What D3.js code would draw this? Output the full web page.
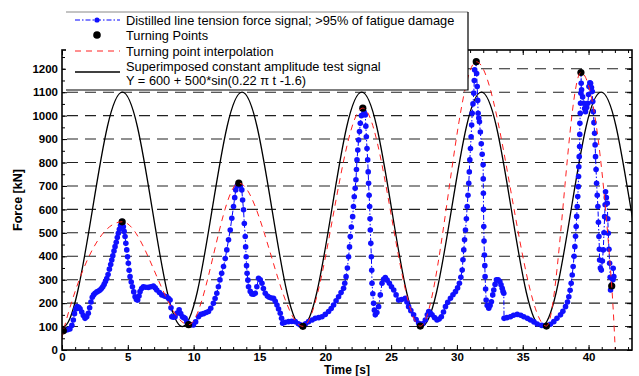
<!DOCTYPE html>
<html>
<head>
<meta charset="utf-8">
<script src="https://cdn.jsdelivr.net/npm/d3@7/dist/d3.min.js"></script>
<style>
  body { margin: 0; background: #fff; }
  svg { display: block; font-family: "Liberation Sans", Arial, sans-serif; }
</style>
</head>
<body>
<div id="chart"></div>
<script>
// distilled line tension force signal (time [s], force [kN])
const sigTime = [
  0.0, 0.15, 0.3, 0.45, 0.6, 0.75, 0.86, 0.95, 1.05, 1.15,
  1.27, 1.37, 1.5, 1.62, 1.75, 1.88, 2.0, 2.1, 2.2, 2.3,
  2.4, 2.51, 2.65, 2.78, 2.89, 3.0, 3.1, 3.2, 3.3, 3.4,
  3.5, 3.6, 3.7, 3.78, 3.86, 3.95, 4.03, 4.12, 4.2, 4.28,
  4.36, 4.45, 4.54, 4.6, 4.66, 4.72, 4.79, 4.85, 4.92, 4.98,
  5.04, 5.1, 5.17, 5.26, 5.35, 5.45, 5.55, 5.65, 5.75, 5.85,
  5.93, 6.05, 6.18, 6.35, 6.56, 6.75, 6.94, 7.08, 7.2, 7.4,
  7.58, 7.78, 7.96, 8.1, 8.21, 8.28, 8.34, 8.47, 8.59, 8.75,
  8.9, 9.02, 9.15, 9.25, 9.35, 9.48, 9.6, 9.8, 9.98, 10.15,
  10.37, 10.55, 10.75, 10.95, 11.13, 11.3, 11.5, 11.63, 11.76, 11.88,
  12.0, 12.13, 12.27, 12.4, 12.52, 12.65, 12.78, 12.9, 13.03, 13.12,
  13.2, 13.3, 13.41, 13.55, 13.66, 13.72, 13.79, 13.85, 13.92, 13.95,
  13.99, 14.02, 14.06, 14.12, 14.17, 14.3, 14.42, 14.55, 14.68, 14.8,
  14.93, 15.06, 15.19, 15.3, 15.44, 15.6, 15.74, 15.9, 16.07, 16.2,
  16.33, 16.45, 16.58, 16.68, 16.76, 16.95, 17.21, 17.45, 17.72, 17.95,
  18.1, 18.27, 18.5, 18.73, 19.0, 19.24, 19.5, 19.75, 20.0, 20.25,
  20.45, 20.63, 20.82, 21.01, 21.2, 21.39, 21.48, 21.58, 21.68, 21.77,
  21.84, 21.9, 21.98, 22.08, 22.14, 22.2, 22.27, 22.33, 22.37, 22.41,
  22.47, 22.53, 22.6, 22.66, 22.75, 22.84, 22.95, 23.04, 23.08, 23.12,
  23.17, 23.22, 23.26, 23.29, 23.33, 23.37, 23.4, 23.42, 23.46, 23.5,
  23.53, 23.55, 23.61, 23.67, 23.73, 23.8, 23.92, 24.05, 24.18, 24.31,
  24.43, 24.56, 24.7, 24.87, 25.03, 25.2, 25.38, 25.57, 25.8, 26.08,
  26.2, 26.33, 26.5, 26.71, 26.9, 27.1, 27.22, 27.4, 27.6, 27.75,
  27.86, 27.98, 28.11, 28.3, 28.49, 28.65, 28.82, 28.98, 29.13, 29.3,
  29.51, 29.7, 29.89, 30.05, 30.19, 30.3, 30.4, 30.46, 30.52, 30.58,
  30.65, 30.72, 30.78, 30.84, 30.9, 30.94, 30.98, 31.03, 31.08, 31.12,
  31.16, 31.22, 31.28, 31.32, 31.35, 31.46, 31.5, 31.54, 31.58, 31.61,
  31.66, 31.71, 31.78, 31.85, 31.92, 31.99, 32.0, 32.01, 32.02, 32.04,
  32.06, 32.09, 32.12, 32.14, 32.18, 32.22, 32.3, 32.42, 32.52, 32.62,
  32.72, 32.8, 32.9, 33.0, 33.13, 33.26, 33.35, 33.44, 33.5, 33.56,
  33.58, 33.8, 34.07, 34.3, 34.58, 34.85, 35.08, 35.35, 35.59, 35.85,
  36.1, 36.45, 36.8, 37.1, 37.36, 37.6, 37.87, 38.05, 38.25, 38.4,
  38.5, 38.6, 38.68, 38.76, 38.83, 38.9, 38.96, 39.01, 39.06, 39.1,
  39.14, 39.18, 39.22, 39.24, 39.26, 39.29, 39.32, 39.33, 39.34, 39.37,
  39.39, 39.42, 39.44, 39.42, 39.47, 39.55, 39.64, 39.7, 39.77, 39.86,
  39.95, 40.0, 40.03, 40.1, 40.15, 40.22, 40.28, 40.32, 40.36, 40.41,
  40.46, 40.5, 40.53, 40.57, 40.61, 40.66, 40.71, 40.75, 40.79, 40.82,
  40.84, 40.9, 40.97, 41.05, 41.12, 41.17, 41.22, 41.26, 41.29, 41.35,
  41.42, 41.46, 41.5, 41.55, 41.6, 41.64, 41.67, 41.75, 41.85, 41.92,
  41.87
];
const sigForce = [
  82, 83, 85, 87, 90, 105, 128, 155, 175, 185,
  182, 176, 162, 147, 135, 142, 157, 180, 205, 225,
  235, 242, 248, 252, 256, 262, 270, 280, 292, 305,
  322, 345, 365, 384, 402, 422, 441, 460, 480, 498,
  515, 532, 548, 540, 526, 506, 484, 455, 427, 398,
  370, 340, 313, 290, 270, 248, 227, 215, 213, 230,
  249, 262, 270, 268, 267, 270, 273, 265, 256, 245,
  235, 230, 227, 220, 213, 180, 142, 140, 142, 158,
  171, 155, 142, 138, 135, 120, 111, 108, 107, 120,
  142, 152, 155, 160, 164, 178, 199, 220, 242, 270,
  299, 327, 356, 390, 427, 470, 512, 562, 612, 650,
  683, 700, 711, 700, 683, 640, 598, 540, 484, 440,
  398, 360, 327, 298, 270, 250, 239, 238, 242, 270,
  306, 300, 285, 262, 242, 230, 225, 222, 221, 208,
  192, 175, 157, 135, 114, 118, 121, 122, 121, 112,
  107, 102, 112, 121, 128, 135, 138, 142, 152, 164,
  177, 192, 210, 227, 245, 263, 285, 313, 350, 398,
  440, 484, 525, 569, 612, 654, 690, 726, 770, 811,
  853, 896, 932, 967, 1000, 1031, 1015, 1003, 955, 910,
  860, 811, 760, 711, 660, 612, 560, 512, 455, 398,
  340, 285, 240, 199, 170, 150, 160, 185, 235, 285,
  302, 309, 298, 285, 270, 256, 235, 213, 215, 221,
  205, 185, 168, 150, 130, 114, 102, 112, 128, 150,
  164, 158, 150, 138, 128, 132, 142, 162, 185, 203,
  221, 236, 249, 265, 285, 310, 341, 385, 427, 470,
  512, 560, 612, 660, 711, 760, 811, 860, 910, 960,
  1010, 1050, 1096, 1150, 1195, 1230, 1180, 1124, 1065, 1010,
  990, 974, 930, 880, 835, 790, 730, 669, 600, 527,
  465, 405, 360, 313, 260, 213, 190, 178, 190, 206,
  235, 256, 280, 299, 300, 292, 278, 263, 250, 242,
  135, 138, 142, 148, 152, 148, 142, 135, 128, 120,
  111, 105, 102, 110, 121, 135, 150, 165, 185, 205,
  227, 255, 285, 320, 356, 400, 441, 485, 527, 570,
  612, 655, 697, 740, 782, 825, 868, 920, 967, 1010,
  1053, 1095, 1138, 1184, 1110, 1080, 1053, 1030, 1017, 1035,
  1053, 1090, 1124, 1140, 1138, 1120, 1103, 1060, 1017, 970,
  925, 875, 825, 770, 711, 660, 612, 545, 484, 430,
  384, 350, 341, 380, 427, 500, 569, 620, 675, 650,
  626, 560, 498, 430, 370, 310, 256, 273, 300, 313,
  349
];

// turning points
const tpTime = [0.1, 4.57, 9.62, 13.43, 18.3, 22.85, 27.22, 31.47, 36.8, 39.42, 41.76];
const tpForce = [82, 547, 108, 712, 101, 1032, 102, 1230, 102, 1184, 273];

// where the interpolation curve starts and runs out of the plot
const interpEdgeTime = [0, 42.15];
const interpEdgeForce = [45, -150];

// superimposed constant amplitude test signal, Y = 600 + 500*sin(0.22 pi t - 1.6)
const testTime = [
  -1.094, 0.042, 1.178, 2.315, 3.451, 4.588, 5.724, 6.86, 7.997, 9.133,
  10.27, 11.406, 12.542, 13.679, 14.815, 15.952, 17.088, 18.224, 19.361, 20.497,
  21.634, 22.77, 23.906, 25.043, 26.179, 27.316, 28.452, 29.588, 30.725, 31.861,
  32.998, 34.134, 35.27, 36.407, 37.543, 38.68, 39.816, 40.952, 42.089, 43.225,
  44.361
];
const testForce = [
  246.4, 100, 246.4, 600, 953.6, 1100, 953.6, 600, 246.4, 100,
  246.4, 600, 953.6, 1100, 953.6, 600, 246.4, 100, 246.4, 600,
  953.6, 1100, 953.6, 600, 246.4, 100, 246.4, 600, 953.6, 1100,
  953.6, 600, 246.4, 100, 246.4, 600, 953.6, 1100, 953.6, 600,
  246.4
];

const xTicks = [0, 5, 10, 15, 20, 25, 30, 35, 40];
const yTicks = [0, 100, 200, 300, 400, 500, 600, 700, 800, 900, 1000, 1100, 1200];
const legendLabels = [
  "Distilled line tension force signal; >95% of fatigue damage",
  "Turning Points",
  "Turning point interpolation",
  "Superimposed constant amplitude test signal",
  "Y = 600 + 500*sin(0.22 \u03c0 t -1.6)"
];

const W = 639, H = 376;
const margin = { top: 50, right: 7, bottom: 26, left: 62 },
    width = W - margin.left - margin.right,
    height = H - margin.top - margin.bottom;

const svg = d3.select("#chart").append("svg")
    .attr("width", W)
    .attr("height", H);

const g = svg.append("g").attr("transform", `translate(${margin.left},${margin.top})`);

const x = d3.scaleLinear().domain([0, 43.3]).range([0, width]);
const y = d3.scaleLinear().domain([0, 1280]).range([height, 0]);

g.append("clipPath").attr("id", "plot-clip")
  .append("rect").attr("width", width).attr("height", height);

// dashed horizontal grid
g.append("g").selectAll("line")
  .data(yTicks.filter(d => d > 0))
  .enter().append("line")
  .attr("x1", 0).attr("x2", width)
  .attr("y1", d => y(d)).attr("y2", d => y(d))
  .attr("stroke", "#222").attr("stroke-width", 1.1)
  .attr("stroke-dasharray", "11,7").attr("stroke-dashoffset", 13);

const plot = g.append("g").attr("clip-path", "url(#plot-clip)");

// constant amplitude test signal
const testData = testTime.map((t, i) => [t, testForce[i]]);
plot.append("path")
  .datum(testData)
  .attr("fill", "none").attr("stroke", "#000").attr("stroke-width", 1.3)
  .attr("d", d3.line().x(d => x(d[0])).y(d => y(d[1])).curve(d3.curveNatural));

// distilled signal
const sigData = sigTime.map((t, i) => [t, sigForce[i]]);
plot.append("path")
  .datum(sigData)
  .attr("fill", "none").attr("stroke", "#0000ff").attr("stroke-width", 1)
  .attr("stroke-dasharray", "5,2,1.5,2")
  .attr("d", d3.line().x(d => x(d[0])).y(d => y(d[1])));

plot.append("g").selectAll("circle")
  .data(sigData)
  .enter().append("circle")
  .attr("cx", d => x(d[0])).attr("cy", d => y(d[1]))
  .attr("r", 2.8).attr("fill", "#1010ff");

// turning points
const tpData = tpTime.map((t, i) => [t, tpForce[i]]);
plot.append("g").selectAll("circle")
  .data(tpData)
  .enter().append("circle")
  .attr("cx", d => x(d[0])).attr("cy", d => y(d[1]))
  .attr("r", 3.6).attr("fill", "#000");

// turning point interpolation
const interpData = [[interpEdgeTime[0], interpEdgeForce[0]]]
  .concat(tpData)
  .concat([[interpEdgeTime[1], interpEdgeForce[1]]]);
plot.append("path")
  .datum(interpData)
  .attr("fill", "none").attr("stroke", "#ff2020").attr("stroke-width", 1)
  .attr("stroke-dasharray", "6,5")
  .attr("d", d3.line().x(d => x(d[0])).y(d => y(d[1])).curve(d3.curveMonotoneX));

// axes with inward ticks
function styleAxis(sel) {
  sel.select(".domain").remove();
  sel.selectAll("line").attr("stroke", "#000");
  sel.selectAll("text")
    .attr("fill", "#000")
    .style("font-family", "'Liberation Sans', Arial, sans-serif")
    .style("font-size", "11.5px")
    .style("font-weight", "bold");
}

const xMinor = d3.range(0, 43.3, 1);
const yMinor = d3.range(0, 1281, 50);

g.append("g").attr("transform", `translate(0,${height})`)
  .call(d3.axisBottom(x).tickValues(xMinor).tickSizeInner(-3).tickSizeOuter(0).tickFormat(""))
  .call(styleAxis);
g.append("g").attr("transform", `translate(0,${height})`)
  .call(d3.axisBottom(x).tickValues(xTicks).tickSizeInner(-5).tickSizeOuter(0).tickPadding(3).tickFormat(d3.format("d")))
  .call(styleAxis);
g.append("g")
  .call(d3.axisTop(x).tickValues(xMinor).tickSizeInner(-3).tickSizeOuter(0).tickFormat(""))
  .call(styleAxis);
g.append("g")
  .call(d3.axisTop(x).tickValues(xTicks).tickSizeInner(-5).tickSizeOuter(0).tickFormat(""))
  .call(styleAxis);

g.append("g")
  .call(d3.axisLeft(y).tickValues(yMinor).tickSizeInner(-3).tickSizeOuter(0).tickFormat(""))
  .call(styleAxis);
g.append("g")
  .call(d3.axisLeft(y).tickValues(yTicks).tickSizeInner(-5).tickSizeOuter(0).tickPadding(4).tickFormat(d3.format("d")))
  .call(styleAxis);
g.append("g").attr("transform", `translate(${width},0)`)
  .call(d3.axisRight(y).tickValues(yMinor).tickSizeInner(-3).tickSizeOuter(0).tickFormat(""))
  .call(styleAxis);
g.append("g").attr("transform", `translate(${width},0)`)
  .call(d3.axisRight(y).tickValues(yTicks).tickSizeInner(-5).tickSizeOuter(0).tickFormat(""))
  .call(styleAxis);

// frame
g.append("rect")
  .attr("width", width).attr("height", height)
  .attr("fill", "none").attr("stroke", "#000").attr("stroke-width", 1.6);

// axis titles
g.append("text")
  .attr("x", width / 2)
  .attr("y", height + 23.5)
  .attr("text-anchor", "middle")
  .style("font-size", "12px")
  .style("font-weight", "bold")
  .text("Time [s]");

g.append("text")
  .attr("transform", "rotate(-90)")
  .attr("x", -height / 2)
  .attr("y", -40)
  .attr("text-anchor", "middle")
  .style("font-size", "12.5px")
  .style("font-weight", "bold")
  .text("Force [kN]");

// legend
const lg = svg.append("g");
lg.append("rect")
  .attr("x", 66).attr("y", 12).attr("width", 402).attr("height", 78)
  .attr("fill", "#fff");
lg.append("line").attr("x1", 66).attr("x2", 468).attr("y1", 12).attr("y2", 12)
  .attr("stroke", "#888").attr("stroke-width", 1);
lg.append("path").attr("d", "M468,12V90H66")
  .attr("fill", "none").attr("stroke", "#000").attr("stroke-width", 1.2);

const rowY = [20, 35, 51, 66, 80];
lg.append("line").attr("x1", 75).attr("x2", 120).attr("y1", rowY[0]).attr("y2", rowY[0])
  .attr("stroke", "#0000ff").attr("stroke-dasharray", "5,2,1.5,2");
lg.append("circle").attr("cx", 97).attr("cy", rowY[0]).attr("r", 2.6).attr("fill", "#1010ff");
lg.append("circle").attr("cx", 97).attr("cy", rowY[1]).attr("r", 3.8).attr("fill", "#000");
lg.append("line").attr("x1", 75).attr("x2", 120).attr("y1", rowY[2]).attr("y2", rowY[2])
  .attr("stroke", "#ff2020").attr("stroke-dasharray", "6,5");
lg.append("line").attr("x1", 75).attr("x2", 120).attr("y1", 72).attr("y2", 72)
  .attr("stroke", "#000").attr("stroke-width", 1.3);

lg.selectAll("text.lbl")
  .data(legendLabels)
  .enter().append("text")
  .attr("class", "lbl")
  .attr("x", 126)
  .attr("y", (d, i) => rowY[i] + 4.5)
  .style("font-size", "12.8px")
  .attr("fill", "#000")
  .text(d => d);
</script>
</body>
</html>
